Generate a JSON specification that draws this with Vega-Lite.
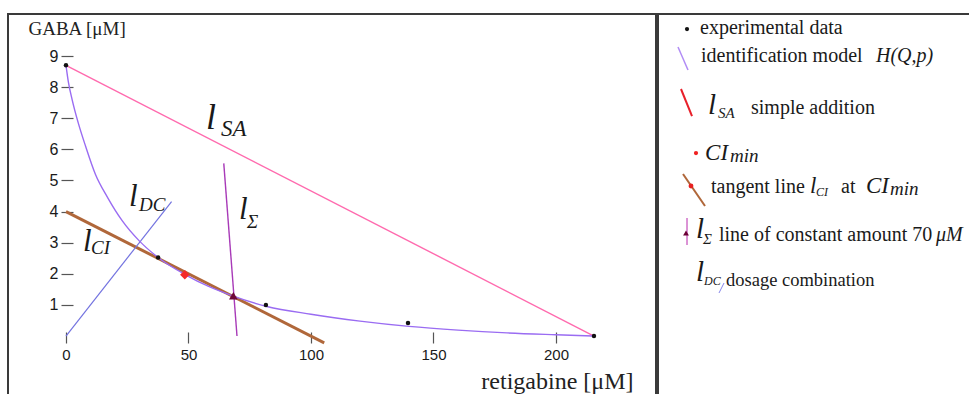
{
  "$schema": "https://vega.github.io/schema/vega-lite/v6.json",
  "padding": {"left": 7, "top": 13, "right": 0, "bottom": 0},
  "spacing": 0,
  "config": {
    "view": {"stroke": "#3a3a3a", "strokeWidth": 2},
    "font": "Liberation Serif"
  },
  "datasets": {
    "experiments": [
      {"x": 0, "y": 8.7},
      {"x": 37.6, "y": 2.52},
      {"x": 81.6, "y": 1.0},
      {"x": 139.6, "y": 0.42},
      {"x": 215.5, "y": 0}
    ],
    "model": [
      {"x": 0, "y": 8.7}, {"x": 1, "y": 8.15}, {"x": 2.5, "y": 7.6}, {"x": 5, "y": 6.85},
      {"x": 8, "y": 6.1}, {"x": 12, "y": 5.2}, {"x": 17, "y": 4.45}, {"x": 23, "y": 3.7},
      {"x": 30, "y": 3.05}, {"x": 38, "y": 2.5}, {"x": 49, "y": 1.96}, {"x": 58, "y": 1.6},
      {"x": 68, "y": 1.29}, {"x": 82, "y": 0.95}, {"x": 100, "y": 0.7}, {"x": 120, "y": 0.48},
      {"x": 140, "y": 0.31}, {"x": 160, "y": 0.19}, {"x": 180, "y": 0.1}, {"x": 200, "y": 0.04},
      {"x": 215, "y": 0}
    ],
    "lines": [
      {"line": "SA", "x": 0, "y": 8.7},
      {"line": "SA", "x": 215.5, "y": 0},
      {"line": "CI", "x": 0, "y": 4.0},
      {"line": "CI", "x": 105.4, "y": -0.22},
      {"line": "Sigma", "x": 64.4, "y": 5.55},
      {"line": "Sigma", "x": 69.8, "y": 0},
      {"line": "DC", "x": 0, "y": 0},
      {"line": "DC", "x": 43.1, "y": 4.32}
    ],
    "special": [
      {"marker": "CImin", "x": 48.5, "y": 1.97},
      {"marker": "Sigma", "x": 68.3, "y": 1.29}
    ],
    "labels": [
      {"text": "l", "x": 57.1, "y": 6.65, "role": "lbig"},
      {"text": "SA", "x": 63.3, "y": 6.43, "role": "subbig"},
      {"text": "l", "x": 25.7, "y": 4.18, "role": "l"},
      {"text": "DC", "x": 29.8, "y": 4.02, "role": "sub"},
      {"text": "l", "x": 70.6, "y": 3.76, "role": "l"},
      {"text": "Σ", "x": 73.9, "y": 3.47, "role": "sub"},
      {"text": "l", "x": 6.9, "y": 2.73, "role": "l"},
      {"text": "CI", "x": 10.2, "y": 2.64, "role": "sub"}
    ],
    "legendSymbols": [
      {"sym": "H", "x": 6.37, "y": 8.53, "x2": 9.55, "y2": 14.47},
      {"sym": "SA", "x": 7.32, "y": 19.38, "x2": 10.83, "y2": 26.36},
      {"sym": "CI", "x": 7.96, "y": 41.34, "x2": 14.97, "y2": 49.61},
      {"sym": "Sigma", "x": 9.24, "y": 52.71, "x2": 9.24, "y2": 59.69},
      {"sym": "DC", "x": 19.43, "y": 72.09, "x2": 21.02, "y2": 69.51}
    ],
    "legendDots": [
      {"dot": "data", "x": 9.24, "y": 3.88},
      {"dot": "CImin", "x": 12.1, "y": 35.92},
      {"dot": "tangent", "x": 10.51, "y": 44.44},
      {"dot": "star", "x": 8.92, "y": 56.59}
    ],
    "legendText": [
      {"x": 13.38, "y": 5.17, "text": "experimental data", "role": "txt"},
      {"x": 13.69, "y": 12.4, "text": "identification model", "role": "txt"},
      {"x": 69.43, "y": 12.4, "text": "H(Q,p)", "role": "var"},
      {"x": 15.92, "y": 25.84, "text": "l", "role": "l"},
      {"x": 19.11, "y": 26.87, "text": "SA", "role": "sub"},
      {"x": 29.62, "y": 25.84, "text": "simple addition", "role": "txt"},
      {"x": 15.0, "y": 37.73, "text": "CI", "role": "ci"},
      {"x": 22.9, "y": 38.24, "text": "min", "role": "min"},
      {"x": 16.88, "y": 46.25, "text": "tangent line", "role": "txt"},
      {"x": 48.41, "y": 46.25, "text": "l", "role": "l2"},
      {"x": 50.32, "y": 47.0, "text": "CI", "role": "sub2"},
      {"x": 58.28, "y": 46.25, "text": "at", "role": "txt"},
      {"x": 66.24, "y": 46.25, "text": "CI", "role": "ci"},
      {"x": 73.9, "y": 46.8, "text": "min", "role": "min"},
      {"x": 12.1, "y": 57.88, "text": "l", "role": "l"},
      {"x": 14.33, "y": 59.43, "text": "Σ", "role": "sub"},
      {"x": 19.43, "y": 58.66, "text": "line of constant amount 70", "role": "txt"},
      {"x": 88.54, "y": 58.66, "text": "μM", "role": "var"},
      {"x": 12.1, "y": 68.99, "text": "l", "role": "l"},
      {"x": 14.65, "y": 70.03, "text": "DC", "role": "sub2"},
      {"x": 21.66, "y": 70.28, "text": "dosage combination", "role": "txt2"}
    ]
  },
  "resolve": {"scale": {"x": "independent", "y": "independent", "color": "independent", "size": "independent", "shape": "independent", "strokeWidth": "independent"}},
  "hconcat": [
    {
      "width": 648,
      "height": 387,
      "resolve": {"scale": {"color": "independent", "size": "independent", "shape": "independent", "strokeWidth": "independent"}},
      "encoding": {
        "x": {
          "field": "x", "type": "quantitative", "title": "retigabine [μM]",
          "scale": {"domain": [-23.67, 240.82], "nice": false, "zero": false},
          "axis": {
            "orient": "bottom", "offset": -69, "values": [0, 50, 100, 150, 200],
            "domain": false, "grid": false, "tickSize": 11, "tickColor": "#555", "tickWidth": 1.2,
            "labelPadding": 4, "labelFont": "Liberation Sans", "labelFontSize": 15, "labelColor": "#1a1a1a",
            "titleFont": "Liberation Serif", "titleFontSize": 24, "titleFontWeight": "normal", "titleColor": "#222",
            "titleAlign": "right", "titleX": 625, "titleY": 56, "titleBaseline": "alphabetic"
          }
        },
        "y": {
          "field": "y", "type": "quantitative", "title": "GABA [μM]",
          "scale": {"domain": [-2.089, 10.35], "nice": false, "zero": false},
          "axis": {
            "orient": "left", "offset": -65, "values": [1, 2, 3, 4, 5, 6, 7, 8, 9],
            "domain": false, "grid": false, "tickSize": 12, "tickColor": "#555", "tickWidth": 1.2,
            "labelPadding": 3, "labelFont": "Liberation Sans", "labelFontSize": 16, "labelColor": "#1a1a1a",
            "titleFont": "Liberation Serif", "titleFontSize": 19, "titleFontWeight": "normal", "titleColor": "#222",
            "titleAngle": 0, "titleAlign": "left", "titleX": -45, "titleY": 20, "titleBaseline": "alphabetic"
          }
        }
      },
      "layer": [
        {
          "mark": {"type": "rule", "color": "#8c8c8c", "strokeWidth": 2},
          "encoding": {"x": {"datum": 0}, "x2": {"datum": 230}, "y": {"datum": 0}}
        },
        {
          "mark": {"type": "rule", "color": "#8c8c8c", "strokeWidth": 2},
          "encoding": {"x": {"datum": 0}, "y": {"datum": 0}, "y2": {"datum": 9}}
        },
        {
          "data": {"name": "lines"},
          "mark": {"type": "line"},
          "encoding": {
            "color": {"field": "line", "type": "nominal", "legend": null,
              "scale": {"domain": ["SA", "CI", "Sigma", "DC"], "range": ["#ff6aae", "#b0673a", "#a83ab8", "#7373e0"]}},
            "strokeWidth": {"field": "line", "type": "nominal", "legend": null,
              "scale": {"type": "ordinal", "domain": ["SA", "CI", "Sigma", "DC"], "range": [1.4, 3, 1.4, 1.2]}}
          }
        },
        {
          "data": {"name": "model"},
          "mark": {"type": "line", "interpolate": "monotone", "color": "#9a6cf2", "strokeWidth": 1.4}
        },
        {
          "data": {"name": "experiments"},
          "mark": {"type": "point", "filled": true, "color": "#111", "size": 20, "opacity": 1}
        },
        {
          "data": {"name": "special"},
          "mark": {"type": "point", "filled": true, "opacity": 1},
          "encoding": {
            "shape": {"field": "marker", "type": "nominal", "legend": null,
              "scale": {"domain": ["CImin", "Sigma"], "range": ["diamond", "triangle-up"]}},
            "color": {"field": "marker", "type": "nominal", "legend": null,
              "scale": {"domain": ["CImin", "Sigma"], "range": ["#f42a2a", "#6e0838"]}},
            "size": {"field": "marker", "type": "nominal", "legend": null,
              "scale": {"type": "ordinal", "domain": ["CImin", "Sigma"], "range": [90, 75]}}
          }
        },
        {
          "data": {"name": "labels"},
          "mark": {"type": "text", "font": "Liberation Serif", "fontStyle": "italic", "align": "left", "baseline": "alphabetic", "color": "#1a1a1a"},
          "encoding": {
            "text": {"field": "text"},
            "size": {"field": "role", "type": "nominal", "legend": null,
              "scale": {"type": "ordinal", "domain": ["lbig", "subbig", "l", "sub"], "range": [36, 23, 31, 19]}}
          }
        }
      ]
    },
    {
      "width": 320,
      "height": 387,
      "resolve": {"scale": {"color": "independent", "size": "independent", "shape": "independent", "strokeWidth": "independent"}},
      "encoding": {
        "x": {"field": "x", "type": "quantitative", "axis": null, "scale": {"domain": [0, 101.91], "nice": false, "zero": false}},
        "y": {"field": "y", "type": "quantitative", "axis": null, "scale": {"domain": [0, 100], "reverse": true, "nice": false, "zero": false}}
      },
      "layer": [
        {
          "data": {"name": "legendSymbols"},
          "mark": {"type": "rule"},
          "encoding": {
            "x2": {"field": "x2"},
            "y2": {"field": "y2"},
            "color": {"field": "sym", "type": "nominal", "legend": null,
              "scale": {"domain": ["H", "SA", "CI", "Sigma", "DC"], "range": ["#b18cf5", "#e8202a", "#b0673a", "#d070c8", "#8585ea"]}},
            "strokeWidth": {"field": "sym", "type": "nominal", "legend": null,
              "scale": {"type": "ordinal", "domain": ["H", "SA", "CI", "Sigma", "DC"], "range": [1.5, 2, 2, 1.5, 1]}}
          }
        },
        {
          "data": {"name": "legendDots"},
          "mark": {"type": "point", "filled": true, "opacity": 1},
          "encoding": {
            "shape": {"field": "dot", "type": "nominal", "legend": null,
              "scale": {"domain": ["data", "CImin", "tangent", "star"], "range": ["circle", "circle", "circle", "triangle-up"]}},
            "color": {"field": "dot", "type": "nominal", "legend": null,
              "scale": {"domain": ["data", "CImin", "tangent", "star"], "range": ["#111", "#f02020", "#e82020", "#6a0035"]}},
            "size": {"field": "dot", "type": "nominal", "legend": null,
              "scale": {"type": "ordinal", "domain": ["data", "CImin", "tangent", "star"], "range": [18, 18, 24, 34]}}
          }
        },
        {
          "data": {"name": "legendText"},
          "transform": [{"filter": "datum.role === 'txt'"}],
          "mark": {"type": "text", "font": "Liberation Serif", "fontSize": 20, "align": "left", "baseline": "alphabetic", "color": "#1a1a1a"},
          "encoding": {"text": {"field": "text"}}
        },
        {
          "data": {"name": "legendText"},
          "transform": [{"filter": "datum.role === 'txt2'"}],
          "mark": {"type": "text", "font": "Liberation Serif", "fontSize": 18.5, "align": "left", "baseline": "alphabetic", "color": "#1a1a1a"},
          "encoding": {"text": {"field": "text"}}
        },
        {
          "data": {"name": "legendText"},
          "transform": [{"filter": "datum.role !== 'txt' && datum.role !== 'txt2'"}],
          "mark": {"type": "text", "font": "Liberation Serif", "fontStyle": "italic", "align": "left", "baseline": "alphabetic", "color": "#1a1a1a"},
          "encoding": {
            "text": {"field": "text"},
            "size": {"field": "role", "type": "nominal", "legend": null,
              "scale": {"type": "ordinal", "domain": ["var", "l", "sub", "ci", "min", "l2", "sub2"], "range": [20, 29, 15, 23, 19, 23, 12]}}
          }
        }
      ]
    }
  ]
}
